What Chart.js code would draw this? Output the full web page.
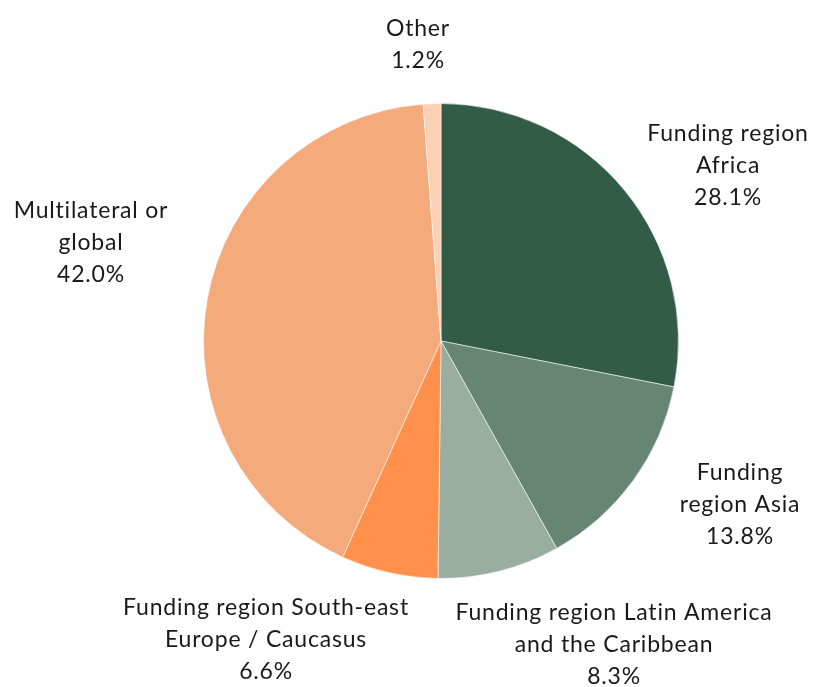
<!DOCTYPE html>
<html>
<head>
<meta charset="utf-8">
<script src="https://cdn.jsdelivr.net/npm/chart.js@4/dist/chart.umd.min.js"></script>
<style>
  html, body { margin: 0; padding: 0; background: #ffffff; }
  #wrap { width: 814px; height: 687px; position: relative; }
</style>
</head>
<body>
<div id="wrap"><canvas id="pie"></canvas></div>
<script>
// Share of funding by region (percent), clockwise from 12 o'clock
const regions = [
  ['Funding region', 'Africa'],
  ['Funding', 'region Asia'],
  ['Funding region Latin America', 'and the Caribbean'],
  ['Funding region South-east', 'Europe / Caucasus'],
  ['Multilateral or', 'global'],
  ['Other']
];
const shares = [28.1, 13.8, 8.3, 6.6, 42.0, 1.2];
const sliceColors = ['#335c48', '#668573', '#99ada1', '#ff914d', '#f5aa7b', '#fbd0b5'];

// Label block centre, relative to the pie centre (px)
const labelOffsets = [
  [287, -175],
  [299, 164],
  [173, 304],
  [-175, 299],
  [-350, -98],
  [-23, -296]
];

const outsideLabels = {
  id: 'outsideLabels',
  afterDatasetsDraw(chart) {
    const ctx = chart.ctx;
    const meta = chart.getDatasetMeta(0);
    const ds = chart.data.datasets[0];
    ctx.save();
    ctx.font = '23px Lato, "Open Sans", sans-serif';
    if ('letterSpacing' in ctx) ctx.letterSpacing = '0.8px';
    ctx.fillStyle = '#1a1a1a';
    ctx.textAlign = 'center';
    ctx.textBaseline = 'middle';
    const lineH = 32;
    meta.data.forEach((arc, i) => {
      const cx = arc.x + labelOffsets[i][0];
      const cy = arc.y + labelOffsets[i][1];
      const lines = [...chart.data.labels[i], ds.data[i].toFixed(1) + '%'];
      const top = cy - (lines.length - 1) * lineH / 2;
      lines.forEach((t, k) => ctx.fillText(t, cx, top + k * lineH));
    });
    ctx.restore();
  }
};

new Chart(document.getElementById('pie'), {
  type: 'pie',
  data: {
    labels: regions,
    datasets: [{
      data: shares,
      backgroundColor: sliceColors,
      borderColor: 'rgba(255,255,255,0.55)',
      borderWidth: 1
    }]
  },
  options: {
    responsive: true,
    maintainAspectRatio: false,
    animation: false,
    layout: { padding: { top: 103, bottom: 108, left: 203, right: 135 } },
    plugins: {
      legend: { display: false },
      tooltip: { enabled: false }
    }
  },
  plugins: [outsideLabels]
});
</script>
</body>
</html>
